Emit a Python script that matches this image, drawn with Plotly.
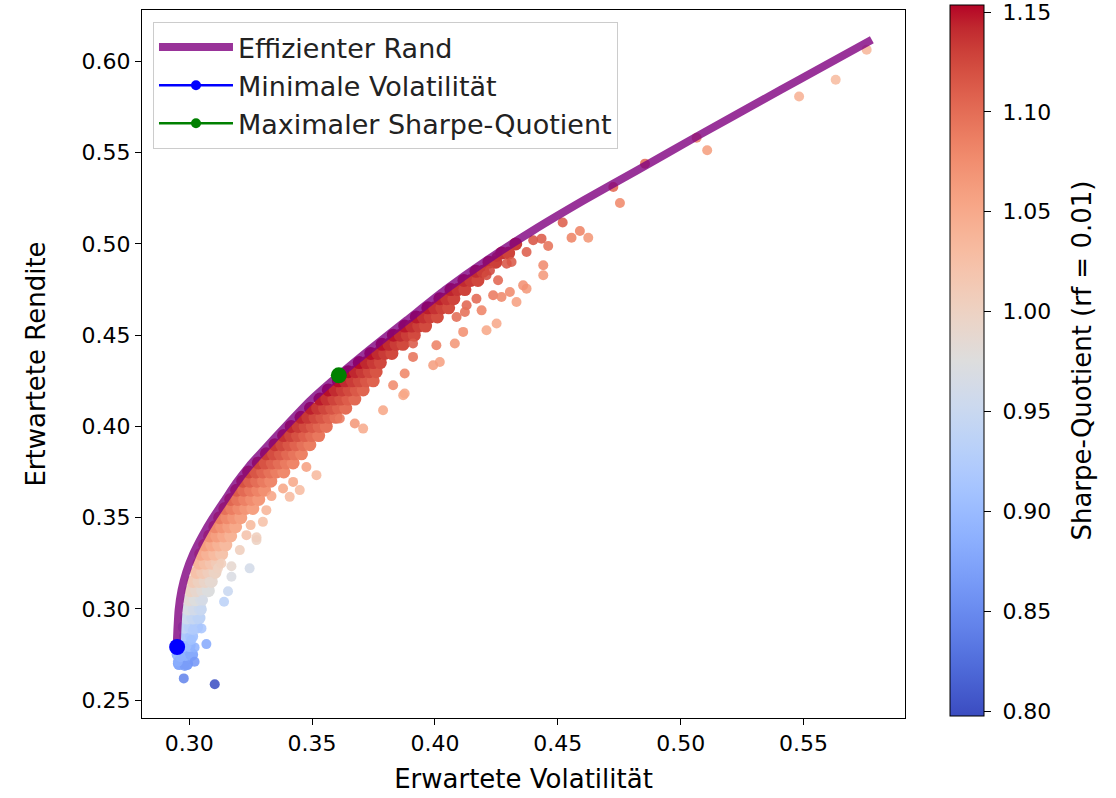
import plotly.graph_objects as go

# ---------------- data ----------------
RF = 0.01

# efficient frontier (volatility, return)
front_vol = [0.2949, 0.2952, 0.2957, 0.2969, 0.2988, 0.3016, 0.3053, 0.3096, 0.3145,
             0.3191, 0.3244, 0.3303, 0.3397, 0.3495, 0.3609, 0.3731, 0.3886, 0.4040,
             0.4211, 0.4401, 0.4606, 0.4822, 0.5079, 0.5329, 0.5486, 0.5778]
front_ret = [0.2791, 0.2884, 0.2993, 0.3103, 0.3201, 0.3300, 0.3399, 0.3497, 0.3596,
             0.3689, 0.3782, 0.3870, 0.4007, 0.4144, 0.4280, 0.4417, 0.4582, 0.4746,
             0.4910, 0.5075, 0.5239, 0.5403, 0.5599, 0.5786, 0.5903, 0.6119]

# special portfolios
min_vol_point = (0.2951, 0.2791)
max_sharpe_point = (0.3609, 0.4280)

# dense band of simulated portfolios, row by row (return level -> volatilities)
band_ret = [0.270, 0.275, 0.280, 0.285, 0.290, 0.295, 0.300, 0.305, 0.310, 0.315,
            0.320, 0.325, 0.330, 0.335, 0.340, 0.345, 0.350, 0.355, 0.360, 0.365,
            0.370, 0.375, 0.380, 0.385, 0.390, 0.395, 0.400, 0.405, 0.410, 0.415,
            0.420, 0.425, 0.430, 0.435, 0.440, 0.445, 0.450, 0.455, 0.460, 0.465,
            0.470, 0.475, 0.480, 0.485, 0.490, 0.495, 0.500]
band_vol = [
    [0.2960, 0.2990],
    [0.2955, 0.2985, 0.3010],
    [0.2975, 0.3000],
    [0.2985, 0.3010],
    [0.2980, 0.3005, 0.3030],
    [0.2990, 0.3015, 0.3040],
    [0.2995, 0.3020, 0.3045],
    [0.3000, 0.3025, 0.3050],
    [0.3005, 0.3030, 0.3055, 0.3078],
    [0.3015, 0.3040, 0.3065, 0.3090],
    [0.3030, 0.3055, 0.3080, 0.3105],
    [0.3040, 0.3065, 0.3090, 0.3115],
    [0.3047, 0.3075, 0.3104, 0.3132],
    [0.3063, 0.3092, 0.3120, 0.3149],
    [0.3083, 0.3112, 0.3140, 0.3169],
    [0.3104, 0.3132, 0.3161, 0.3189],
    [0.3124, 0.3153, 0.3181, 0.3210],
    [0.3145, 0.3173, 0.3202, 0.3230, 0.3259],
    [0.3169, 0.3197, 0.3226, 0.3254, 0.3283],
    [0.3193, 0.3222, 0.3250, 0.3279, 0.3307],
    [0.3218, 0.3246, 0.3275, 0.3303, 0.3332],
    [0.3242, 0.3271, 0.3299, 0.3328, 0.3356, 0.3385],
    [0.3281, 0.3309, 0.3338, 0.3366, 0.3395, 0.3423],
    [0.3314, 0.3343, 0.3371, 0.3400, 0.3428, 0.3457],
    [0.3349, 0.3377, 0.3406, 0.3434, 0.3463, 0.3491],
    [0.3384, 0.3413, 0.3441, 0.3470, 0.3498, 0.3527],
    [0.3415, 0.3444, 0.3472, 0.3501, 0.3529, 0.3558],
    [0.3455, 0.3483, 0.3512, 0.3540, 0.3569, 0.3597],
    [0.3494, 0.3523, 0.3551, 0.3580, 0.3608, 0.3637],
    [0.3532, 0.3560, 0.3589, 0.3617, 0.3646, 0.3674],
    [0.3566, 0.3594, 0.3623, 0.3651, 0.3680, 0.3708],
    [0.3607, 0.3635, 0.3664, 0.3692, 0.3721, 0.3749],
    [0.3647, 0.3676, 0.3704, 0.3733, 0.3761],
    [0.3692, 0.3721, 0.3749, 0.3778],
    [0.3739, 0.3768, 0.3796, 0.3825],
    [0.3785, 0.3813, 0.3842, 0.3870],
    [0.3831, 0.3859, 0.3888, 0.3916],
    [0.3877, 0.3905, 0.3934, 0.3962],
    [0.3924, 0.3953, 0.3981, 0.4010],
    [0.3971, 0.3999, 0.4028, 0.4056],
    [0.4020, 0.4048, 0.4077],
    [0.4065, 0.4093, 0.4122],
    [0.4118, 0.4146, 0.4175],
    [0.4167, 0.4195],
    [0.4220, 0.4248],
    [0.4272, 0.4300],
    [0.4329],
]

# scattered individual portfolios outside the dense band
outer_vol = [0.3104, 0.2978, 0.3022, 0.2982, 0.2954, 0.2965, 0.3070, 0.3022, 0.2989, 0.3142,
             0.3158, 0.3246, 0.3172, 0.3172, 0.3206, 0.3274, 0.3050, 0.3050, 0.3055, 0.3083,
             0.3117, 0.3131, 0.3015, 0.3009, 0.3274, 0.3300, 0.3250, 0.3314, 0.3335, 0.3409,
             0.3450, 0.3382, 0.3423, 0.3477, 0.3518, 0.3233, 0.3789, 0.3708, 0.3674, 0.3871,
             0.3830, 0.3877, 0.3911, 0.3911, 0.3613, 0.4753, 0.4726, 0.4624, 0.4556, 0.4590,
             0.4520, 0.4461, 0.4441, 0.4441, 0.4373, 0.4312, 0.4373, 0.4332, 0.4305, 0.4257,
             0.4237, 0.4271, 0.4210, 0.4400, 0.4434, 0.4251, 0.4224, 0.4169, 0.4129, 0.4190,
             0.4251, 0.4210, 0.4115, 0.4081, 0.4006, 0.4020, 0.3993, 0.3877, 0.4122, 0.4088,
             0.4359, 0.4292, 0.5757, 0.5631, 0.5482, 0.5108, 0.5065, 0.4855]
outer_ret = [0.2587, 0.2619, 0.2710, 0.2687, 0.2710, 0.2735, 0.2807, 0.2789, 0.2796, 0.3039,
             0.3097, 0.3222, 0.3176, 0.3234, 0.3322, 0.3377, 0.2893, 0.2993, 0.3048, 0.3148,
             0.3222, 0.3249, 0.2884, 0.2829, 0.3392, 0.3477, 0.3459, 0.3541, 0.3618, 0.3614,
             0.3651, 0.3660, 0.3696, 0.3778, 0.3733, 0.3404, 0.4089, 0.3988, 0.4016, 0.4171,
             0.4226, 0.4290, 0.4381, 0.4454, 0.4043, 0.5224, 0.5312, 0.5034, 0.5034, 0.5071,
             0.5117, 0.4989, 0.4883, 0.4828, 0.4956, 0.4901, 0.4755, 0.4682, 0.4737, 0.4801,
             0.4719, 0.4709, 0.4828, 0.5020, 0.5029, 0.4928, 0.4855, 0.4700, 0.4664, 0.4636,
             0.4564, 0.4527, 0.4518, 0.4454, 0.4445, 0.4353, 0.4335, 0.4180, 0.4627, 0.4600,
             0.4773, 0.4892, 0.6064, 0.5900, 0.5808, 0.5513, 0.5582, 0.5440]

# colour bar limits
sharpe_min = 0.7975
sharpe_max = 1.1535
cbar_ticks = [0.80, 0.85, 0.90, 0.95, 1.00, 1.05, 1.10, 1.15]
x_ticks = [0.30, 0.35, 0.40, 0.45, 0.50, 0.55]
y_ticks = [0.25, 0.30, 0.35, 0.40, 0.45, 0.50, 0.55, 0.60]

# ---------------- assemble ----------------
band_x, band_y = [], []
for r, vols in zip(band_ret, band_vol):
    for v in vols:
        band_x.append(v)
        band_y.append(r)
# Sharpe-Quotient as defined by the colour bar title (rf = 0.01)
band_sharpe = [(r - RF) / v for v, r in zip(band_x, band_y)]
outer_sharpe = [(r - RF) / v for v, r in zip(outer_vol, outer_ret)]

coolwarm = [
    (59, 76, 192), (68, 90, 204), (77, 104, 215), (87, 117, 225), (98, 130, 234),
    (108, 142, 241), (119, 154, 247), (130, 165, 251), (141, 176, 254), (152, 185, 255),
    (163, 194, 255), (174, 201, 253), (184, 208, 249), (194, 213, 244), (204, 217, 238),
    (213, 219, 230), (221, 221, 221), (229, 216, 209), (236, 211, 197), (241, 204, 185),
    (245, 196, 173), (247, 187, 160), (247, 177, 148), (247, 166, 135), (244, 154, 123),
    (241, 141, 111), (236, 127, 99), (229, 112, 88), (222, 96, 77), (213, 80, 66),
    (203, 62, 56), (192, 40, 47), (180, 4, 38)]
n = len(coolwarm) - 1
colorscale = [[i / n, "rgb(%d,%d,%d)" % c] for i, c in enumerate(coolwarm)]

FONT = "DejaVu Sans"
NB = "\u00a0"
fig = go.Figure()

fig.add_trace(go.Scatter(
    x=band_x, y=band_y, mode="markers", showlegend=False, hoverinfo="skip",
    marker=dict(size=13, color=band_sharpe, coloraxis="coloraxis", opacity=1.0,
                line=dict(width=0))))
fig.add_trace(go.Scatter(
    x=outer_vol, y=outer_ret, mode="markers", showlegend=False, hoverinfo="skip",
    marker=dict(size=10, color=outer_sharpe, coloraxis="coloraxis", opacity=0.88,
                line=dict(width=0))))

fig.add_trace(go.Scatter(
    x=front_vol, y=front_ret, mode="lines", name="Effizienter Rand",
    line=dict(color="rgba(128,0,128,0.8)", width=8, shape="spline", smoothing=0.5)))

fig.add_trace(go.Scatter(
    x=[min_vol_point[0]], y=[min_vol_point[1]], mode="markers", showlegend=False,
    marker=dict(color="blue", size=16)))
fig.add_trace(go.Scatter(
    x=[max_sharpe_point[0]], y=[max_sharpe_point[1]], mode="markers", showlegend=False,
    marker=dict(color="green", size=16)))

# legend entries (line + small marker, like the reference legend)
fig.add_trace(go.Scatter(
    x=[None], y=[None], mode="lines+markers", name="Minimale Volatilität",
    line=dict(color="blue", width=2.5), marker=dict(color="blue", size=10)))
fig.add_trace(go.Scatter(
    x=[None], y=[None], mode="lines+markers", name="Maximaler Sharpe-Quotient",
    line=dict(color="green", width=2.5), marker=dict(color="green", size=10)))

axis_common = dict(
    showline=True, linecolor="black", linewidth=1, mirror=True,
    ticks="outside", ticklen=6, tickwidth=1, tickcolor="black",
    tickformat=".2f", showgrid=False, zeroline=False,
    tickfont=dict(family=FONT, size=22, color="black"),
)

fig.update_layout(
    template="none",
    width=1116, height=798,
    margin=dict(l=142, r=211, t=10, b=80, autoexpand=False),
    paper_bgcolor="white", plot_bgcolor="white",
    font=dict(family=FONT, color="black"),
    coloraxis=dict(
        colorscale=colorscale, cmin=sharpe_min, cmax=sharpe_max,
        colorbar=dict(
            x=1.059, xanchor="left", xpad=0,
            y=1.007, yanchor="top", ypad=0,
            len=711, lenmode="pixels", thickness=34, thicknessmode="pixels",
            outlinewidth=1, outlinecolor="black",
            ticks="outside", ticklen=7, tickwidth=1, tickcolor="black",
            tickvals=cbar_ticks,
            ticktext=[NB + "%.2f" % t + NB + NB for t in cbar_ticks],
            ticklabeloverflow="allow",
            tickfont=dict(family=FONT, size=22, color="black"),
            title=dict(text="Sharpe-Quotient (rf = 0.01)", side="right",
                       font=dict(family=FONT, size=26, color="black")),
        )),
    legend=dict(x=0.0144, y=0.983, xanchor="left", yanchor="top", itemwidth=74,
                bgcolor="rgba(255,255,255,0.8)", bordercolor="#cccccc", borderwidth=1,
                font=dict(family=FONT, size=27, color="#222222")),
    xaxis=dict(range=[0.2808, 0.5913], tickvals=x_ticks,
               title=dict(text="Erwartete Volatilität",
                          font=dict(family=FONT, size=26, color="black"), standoff=14),
               **axis_common),
    yaxis=dict(range=[0.2402, 0.6282], tickvals=y_ticks,
               title=dict(text="Ertwartete Rendite",
                          font=dict(family=FONT, size=26, color="black"), standoff=28),
               **axis_common),
)

# remove the browser's default 8px page margin so the figure fills the window
fig.write_html("out.html",
               config={"displayModeBar": False},
               post_script="document.body.style.margin='0';document.body.style.overflow='hidden';")
